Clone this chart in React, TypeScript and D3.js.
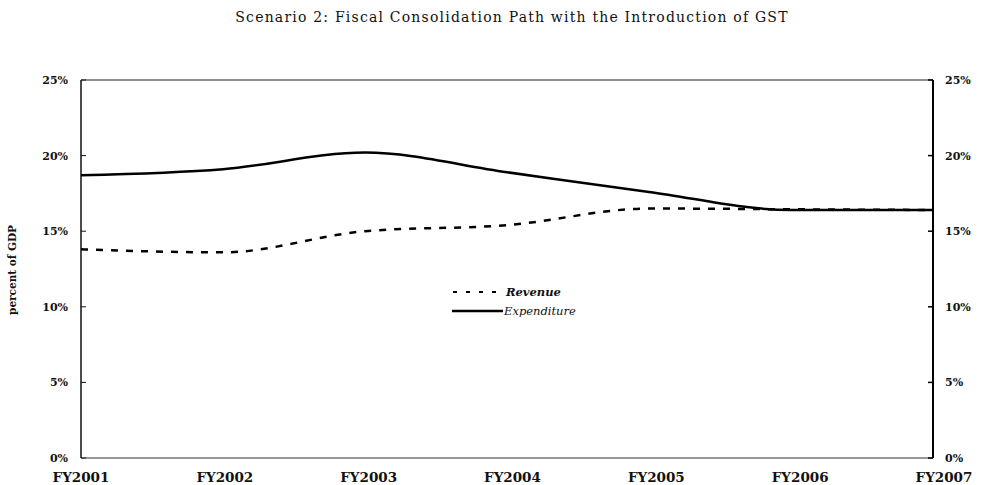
import * as d3 from 'd3'

const years = ['FY2001', 'FY2002', 'FY2003', 'FY2004', 'FY2005', 'FY2006', 'FY2007']
const revenue = [13.8, 13.6, 15.0, 15.4, 16.5, 16.45, 16.4]
const expenditure = [18.7, 19.1, 20.2, 18.9, 17.6, 16.4, 16.4]
const yTicks = [0, 5, 10, 15, 20, 25]

const width = 983
const height = 485
const left = 81
const right = 933
const top = 80
const bottom = 458
const serif = "'DejaVu Serif', serif"

const App = () => {
  const x = d3.scalePoint<string>().domain(years).range([left, right])
  // labels in the scan drift right a little
  const xLabel = d3.scalePoint<string>().domain(years).range([left, 944])
  const y = d3.scaleLinear().domain([0, 25]).range([bottom, top])

  const line = d3.line<number>()
    .x((_, i) => x(years[i]) as number)
    .y(d => y(d))
    .curve(d3.curveMonotoneX)

  return (
    <svg width={width} height={height} style={{ position: 'absolute', left: 0, top: 0, background: '#fff' }}>
      <text x={512} y={22} textAnchor="middle" fontFamily={serif} fontSize={14} letterSpacing={1.2} fill="#111">
        Scenario 2: Fiscal Consolidation Path with the Introduction of GST
      </text>

      {/* plot frame */}
      <line x1={left} x2={right} y1={top} y2={top} stroke="#222" strokeWidth={1} />
      <line x1={left} x2={right} y1={bottom} y2={bottom} stroke="#333" strokeWidth={1} />
      <line x1={left} x2={left} y1={top} y2={bottom} stroke="#111" strokeWidth={1.5} />
      <line x1={right} x2={right} y1={top} y2={bottom} stroke="#000" strokeWidth={2} />

      {yTicks.map(t => (
        <g key={t}>
          <line x1={left} x2={left + 5} y1={y(t)} y2={y(t)} stroke="#111" strokeWidth={1} />
          <line x1={right - 5} x2={right} y1={y(t)} y2={y(t)} stroke="#000" strokeWidth={1.5} />
          <text x={68} y={y(t) + 4} textAnchor="end" fontFamily={serif} fontSize={11} fontWeight="bold" fill="#111">
            {t}%
          </text>
          <text x={945} y={y(t) + 4} textAnchor="start" fontFamily={serif} fontSize={11} fontWeight="bold" fill="#111">
            {t}%
          </text>
        </g>
      ))}

      {years.map(yr => (
        <text key={yr} x={xLabel(yr)} y={482} textAnchor="middle" fontFamily={serif} fontSize={13.5} fontWeight="bold" fill="#111">
          {yr}
        </text>
      ))}

      <text transform="translate(16,270) rotate(-90)" textAnchor="middle" fontFamily={serif} fontSize={10.5} fontWeight="bold" fill="#111">
        percent of GDP
      </text>

      <path d={line(revenue) ?? ''} fill="none" stroke="#000" strokeWidth={2.5} strokeDasharray="7,8" />
      <path d={line(expenditure) ?? ''} fill="none" stroke="#000" strokeWidth={2.5} />

      {/* legend */}
      <line x1={453} x2={497} y1={292} y2={292} stroke="#000" strokeWidth={2} strokeDasharray="4,9" />
      <text x={506} y={296} fontFamily={serif} fontSize={11.5} fontStyle="italic" fontWeight="bold" fill="#111">Revenue</text>
      <line x1={452} x2={503} y1={311} y2={311} stroke="#000" strokeWidth={2.5} />
      <text x={504} y={315} fontFamily={serif} fontSize={11.5} fontStyle="italic" fill="#111">Expenditure</text>
    </svg>
  )
}

export default App
